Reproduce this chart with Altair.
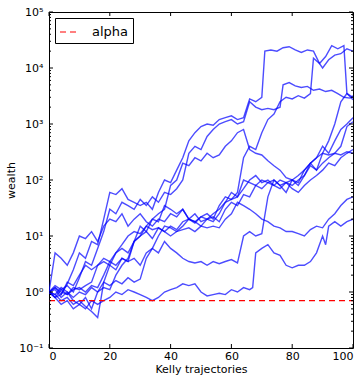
import altair as alt
import pandas as pd

# ---- trajectories (x = step, y = wealth) ----
A_x = [0,2,4,6,8,10,12,14,16,18,20,22,24,26,28,30,32,34,36,38,40,42,44,46,48,50,52,54,56,58,60,62,64,66,68,70,71,73,75,77,79,81,83,85,87,89,90,92,94,96,98,100]
A_y = [1.0,1.2,0.9,1.4,2.5,5,4,8,7,20,60,55,70,45,40,35,40,30,60,100,90,150,250,500,700,900,1000,950,1200,1300,1400,1200,1300,2800,2500,3000,20000,21000,20000,23000,24000,21000,19000,21000,20000,12000,10000,14000,17000,18000,22000,20000]

B_x = [0,2,4,6,8,10,12,14,16,18,20,22,24,26,28,30,32,34,36,38,40,42,44,46,48,50,52,54,56,58,60,62,64,66,68,70,72,74,76,77,79,81,83,85,87,89,91,93,95,97,99,100]
B_y = [1.0,0.8,1.1,1.3,1.0,1.8,3.5,3,6,12,30,25,40,35,30,45,35,50,40,60,55,70,100,300,400,350,600,800,1000,1100,1200,1000,1100,2500,2000,1800,1900,1800,2000,5000,5500,4800,4500,4700,4000,4200,3800,4000,3500,3000,2900,3200]

E_x = [0,2,4,6,8,10,12,14,16,18,20,22,24,26,28,30,32,34,36,38,40,42,44,46,48,50,52,54,56,58,60,62,64,66,68,70,72,74,76,78,80,82,84,86,87,89,91,93,95,97,98,100]
E_y = [1.0,1.3,1.1,0.9,1.2,1.1,1.3,1.5,3,4,3.5,5,6,5,8,10,12,9,14,12,15,13,18,20,17,22,25,20,35,50,45,60,250,400,350,700,1200,1500,2500,3000,2800,3200,2900,3500,15000,12000,16000,25000,22000,25000,3500,2700]

F_x = [0,2,4,6,8,10,12,14,16,17,18,20,22,24,26,28,30,32,34,36,38,40,42,44,46,48,50,52,54,56,58,60,62,64,66,68,70,72,74,76,78,80,82,84,86,88,90,92,94,96,98,100]
F_y = [1.0,0.9,0.7,0.8,0.6,0.7,0.55,0.45,0.35,0.7,1.5,3,2.5,4,3.5,8,15,12,20,18,35,30,25,30,20,25,18,20,22,18,30,40,35,55,50,80,70,90,80,100,90,80,100,120,200,150,300,500,1000,2500,3500,3000]

STEP_X = [0,2,4,6,8,10,12,14,16,18,20,22,24,26,28,30,32,34,36,38,40,42,44,46,48,50,52,54,56,58,60,62,64,66,68,70,72,74,76,78,80,82,84,86,88,90,92,94,96,98,100]
G_y = [1.0,5,4,3,5,10,9,12,8,15,20,18,25,15,20,25,18,15,20,18,25,22,30,20,18,15,20,25,30,40,60,50,70,100,120,90,100,80,70,90,100,90,150,200,250,400,300,500,800,1000,1300]
H_y = [1.0,0.9,1.2,1.0,0.8,1.0,0.9,1.2,1.0,1.5,1.3,1.6,1.4,1.8,1.5,1.7,4,6,5,8,6,5,4,3.5,3.3,3.5,3,3.5,3.2,3.5,3.8,3.3,10,12,10,11,50,100,80,60,100,80,120,180,150,200,250,300,400,900,1100]
C_y = [1.0,1.1,0.8,1.0,0.7,0.6,0.8,0.5,1.0,1.2,1.1,2,3,4,8,10,15,20,25,30,80,100,200,180,250,220,300,250,280,400,500,700,800,350,300,280,220,180,150,110,100,120,150,200,250,300,280,300,280,320,300]
I_y = [1.0,0.8,0.9,1.5,1.3,2,3,2.5,3,3.5,3,5,7,10,12,11,15,13,14,12,10,12,15,20,18,22,20,18,25,40,45,50,100,90,80,100,90,100,80,90,70,60,80,100,120,150,200,180,250,300,350]
J_y = [1.0,1.2,1.0,0.9,1.1,1.2,1.0,1.3,1.2,2,3.5,3,4,3.5,4,3,5,6,10,15,14,12,13,14,12,15,14,15,14,20,25,40,35,30,25,20,18,15,14,12,12,11,10,13,15,14,20,25,35,45,50]

K_x = [0,2,4,6,8,10,12,14,16,18,20,22,24,26,28,30,32,34,36,38,40,42,44,46,48,50,52,54,56,58,60,62,64,66,67,68,70,72,74,76,78,80,82,84,86,88,90,91,92,94,96,98,100]
K_y = [1.0,0.8,0.6,0.7,0.5,0.6,0.5,0.7,0.6,0.7,0.8,1.0,0.9,1.1,1.0,0.9,0.8,0.7,0.8,1.0,1.1,1.2,1.4,1.3,1.4,1.0,0.85,0.9,0.95,0.9,1.1,1.0,1.2,1.1,1.2,5,6,7,5,4.5,3,2.7,3,3,3.5,5,10,7,15,18,15,18,20]

ALPHA = 0.7
Y_TICKS = [0.1, 1, 10, 100, 1000, 10000, 100000]
Y_MINOR = [m * 10.0 ** e for e in range(-1, 5) for m in range(2, 10)]
X_TICKS = [0, 20, 40, 60, 80, 100]

series = {
    "A": (A_x, A_y), "B": (B_x, B_y), "E": (E_x, E_y), "F": (F_x, F_y),
    "G": (STEP_X, G_y), "H": (STEP_X, H_y), "C": (STEP_X, C_y),
    "I": (STEP_X, I_y), "J": (STEP_X, J_y), "K": (K_x, K_y),
}
frames = []
for name, (xs, ys) in series.items():
    frames.append(pd.DataFrame({"step": xs, "wealth": ys, "run": name}))
df = pd.concat(frames, ignore_index=True)

W, H = 304, 336
xscale = alt.Scale(domain=[0, 100], nice=False, zero=False)
yscale = alt.Scale(type="log", domain=[0.1, 100000], nice=False)

label_expr = ("datum.value < 0.5 ? '10⁻¹' : datum.value < 5 ? '10⁰' : datum.value < 50 ? '10¹' : "
              "datum.value < 500 ? '10²' : datum.value < 5000 ? '10³' : datum.value < 50000 ? '10⁴' : '10⁵'")

XAXIS = alt.Axis(values=X_TICKS, ticks=False, domain=False, grid=False, title="Kelly trajectories",
                 labelFontSize=11, titleFontSize=11, titleFontWeight="normal",
                 labelPadding=2, titlePadding=2, labelColor="black", titleColor="black",
                 labelFont="DejaVu Sans", titleFont="DejaVu Sans")
YAXIS = alt.Axis(values=Y_TICKS, labelExpr=label_expr, ticks=False, domain=False, grid=False,
                 title="wealth", labelFontSize=11, titleFontSize=11, titleFontWeight="normal",
                 labelPadding=6, titlePadding=2, labelColor="black", titleColor="black",
                 labelFont="DejaVu Sans", titleFont="DejaVu Sans")

lines = alt.Chart(df).mark_line(color="#0000ff", opacity=0.7, strokeWidth=1.4, clip=True).encode(
    x=alt.X("step:Q", scale=xscale, axis=XAXIS),
    y=alt.Y("wealth:Q", scale=yscale, axis=YAXIS),
    detail="run:N",
)

alpha_df = pd.DataFrame({"x0": [0], "x1": [100], "level": [ALPHA], "label": ["alpha"]})
alpha_rule = alt.Chart(alpha_df).mark_rule(strokeDash=[6, 4], strokeWidth=1.2).encode(
    x=alt.X("x0:Q", scale=xscale, axis=XAXIS),
    x2="x1:Q",
    y=alt.Y("level:Q", scale=yscale, axis=YAXIS),
    color=alt.Color("label:N", scale=alt.Scale(domain=["alpha"], range=["#ff0000"]),
                    legend=alt.Legend(title=None, orient="none", legendX=6, legendY=6,
                                      symbolType="stroke", symbolSize=324, symbolStrokeWidth=1.2,
                                      symbolDash=[6, 4], labelFontSize=13, labelFont="DejaVu Sans",
                                      labelColor="black", labelOffset=13, padding=4,
                                      strokeColor="black", fillColor="white", cornerRadius=0)),
)

ymaj_df = pd.DataFrame({"v": Y_TICKS})
ymin_df = pd.DataFrame({"v": Y_MINOR})
xmaj_df = pd.DataFrame({"v": X_TICKS})


def ytick(data, x0, x1):
    return alt.Chart(data).mark_rule(color="black", strokeWidth=1).encode(
        y=alt.Y("v:Q", scale=yscale, axis=YAXIS), x=alt.value(x0), x2=alt.value(x1))


def xtick(data, y0, y1):
    return alt.Chart(data).mark_rule(color="black", strokeWidth=1).encode(
        x=alt.X("v:Q", scale=xscale, axis=XAXIS), y=alt.value(y0), y2=alt.value(y1))


ticks = [
    ytick(ymaj_df, 0, 4), ytick(ymaj_df, W, W - 4),
    ytick(ymin_df, 0, 2), ytick(ymin_df, W, W - 2),
    xtick(xmaj_df, 0, 4), xtick(xmaj_df, H, H - 4),
]

chart = alt.layer(lines, alpha_rule, *ticks).properties(
    width=W, height=H,
    autosize=alt.AutoSizeParams(type="none"),
    padding={"left": 49, "top": 12, "right": 10, "bottom": 29},
    background="white",
).configure_view(stroke="black", strokeWidth=1)

chart.save("out.html", embed_options={"renderer": "svg", "actions": False})
